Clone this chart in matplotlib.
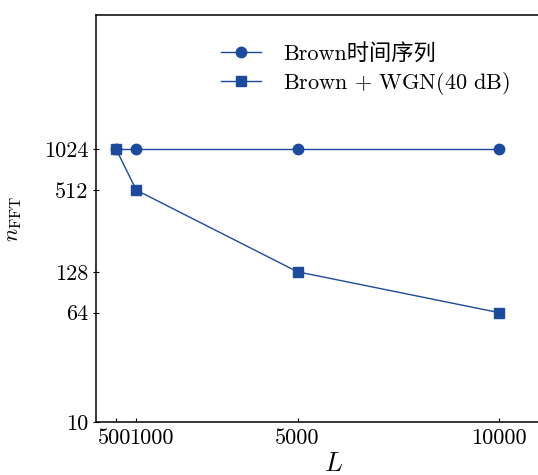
import matplotlib
matplotlib.use("Agg")
import matplotlib.pyplot as plt
import matplotlib.transforms as mtransforms
from matplotlib.ticker import NullLocator

plt.rcParams['mathtext.fontset'] = 'cm'
plt.rcParams['font.family'] = ['cmr10', 'Noto Sans CJK SC', 'DejaVu Sans']
plt.rcParams['axes.formatter.use_mathtext'] = True

# data
L_brown = [500, 1000, 5000, 10000]
n_brown = [1024, 1024, 1024, 1024]
L_wgn = [500, 1000, 5000, 10000]
n_wgn = [1024, 512, 128, 64]
xticks = [500, 1000, 5000, 10000]
yticks = [10, 64, 128, 512, 1024]
label_brown = "Brown时间序列"
label_wgn = r"Brown$\,+\,$WGN(40 dB)"

color = "#1c4a9c"

W, H = 538, 475
fig = plt.figure(figsize=(W/100, H/100), dpi=100)
ax = fig.add_axes([96/W, 53/H, (572-96)/W, (422-15)/H])

ax.plot(L_brown, n_brown, '-o', color=color, lw=1.0, ms=7.5, label=label_brown)
ax.plot(L_wgn, n_wgn, '-s', color=color, lw=1.0, ms=7, label=label_wgn)

ax.set_yscale('log')
ax.set_ylim(10, 10000)
ax.set_xlim(0, (572-96)/0.0403)
ax.set_yticks(yticks)
ax.set_yticklabels([str(v) for v in yticks])
ax.yaxis.set_minor_locator(NullLocator())
ax.set_xticks(xticks)
ax.set_xticklabels([str(v) for v in xticks])

for s in ['left', 'bottom', 'top']:
    ax.spines[s].set_linewidth(1.1)
ax.spines['right'].set_visible(False)

ax.tick_params(axis='x', direction='in', length=3, width=0.8, labelsize=16, pad=5)
ax.tick_params(axis='y', direction='inout', length=5, width=0.8, labelsize=16, pad=3)

# adjust crowded x tick labels (500 and 1000)
xt = ax.get_xticklabels()
xt[0].set_transform(xt[0].get_transform() + mtransforms.ScaledTranslation(-2/100, 0, fig.dpi_scale_trans))
xt[1].set_horizontalalignment('left')
xt[1].set_transform(xt[1].get_transform() + mtransforms.ScaledTranslation(-7/100, 0, fig.dpi_scale_trans))

ax.set_xlabel(r'$L$', fontsize=19, labelpad=3)
ax.set_ylabel(r'$n_{\rm FFT}$', fontsize=16, labelpad=14)

leg = ax.legend(loc='upper left', bbox_to_anchor=(0.220, 0.98), frameon=False,
                fontsize=16, handlelength=1.8, handletextpad=1.0, labelspacing=0.27)

fig.savefig('out.png', dpi=100)
